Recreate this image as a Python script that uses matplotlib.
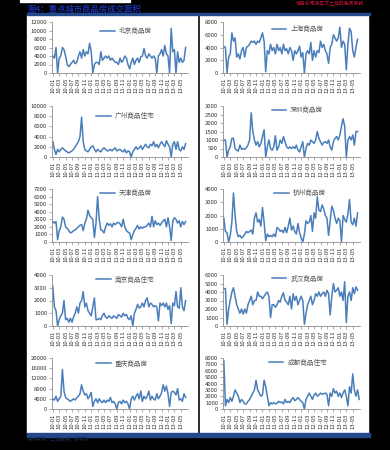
import numpy as np
import matplotlib
matplotlib.use("Agg")
import matplotlib.pyplot as plt
from matplotlib.patches import Rectangle

plt.rcParams['font.family'] = ['Noto Sans CJK SC', 'DejaVu Sans']

# x tick labels (every 2 months, one label per 4 points)
tick_labels = ['10-01', '10-03', '10-05', '10-07', '10-09', '10-11',
               '11-01', '11-03', '11-05', '11-07', '11-09', '11-11',
               '12-01', '12-03', '12-05', '12-07', '12-09', '12-11',
               '13-01', '13-03', '13-05']

names = ['北京商品房', '上海商品房', '广州商品住宅', '深圳商品房', '天津商品房',
         '杭州商品房', '南京商品住宅', '武汉商品房', '重庆商品房', '成都商品住宅']

beijing = [4000, 3500, 6000, 0, 3500, 4000, 6000, 5500, 4000, 2000, 1500, 2000,
           2500, 3000, 2200, 2500, 4000, 5000, 3500, 5500, 4000, 5000, 4500, 7000,
           5000, 0, 2000, 2500, 2500, 2000, 5000, 3000, 3500, 4000, 3500, 4000,
           3000, 3500, 3000, 2500, 2500, 2000, 3500, 2500, 3000, 4000, 3500, 2000,
           1000, 2500, 3500, 2000, 3000, 3500, 2500, 3800, 4000, 5800, 4000, 3500,
           4500, 4000, 3500, 4000, 3500, 0, 4000, 4500, 5500, 4000, 6500, 4500,
           4000, 0, 10500, 5000, 5500, 0, 5000, 2500, 3500, 2500, 3000, 6000]

shanghai = [4200, 4000, 0, 2500, 3000, 6300, 5000, 5500, 2500, 3000, 2200, 3500,
            4000, 2500, 4000, 4200, 4500, 5000, 4800, 5000, 4500, 5000, 4800, 5500,
            6300, 5000, 200, 3500, 3000, 4500, 3500, 4000, 3000, 4500, 3500, 4000,
            3000, 4500, 3500, 3800, 3000, 4000, 3500, 2000, 3500, 3000, 3500, 4200,
            2500, 3200, 0, 3000, 3500, 3000, 4800, 2000, 3500, 2500, 3500, 3200,
            5000, 4000, 4500, 3500, 3000, 1500, 4000, 4500, 6000, 5500, 5000, 5500,
            7200, 4000, 5000, 4500, 500, 4500, 7000, 6500, 3500, 2500, 4000, 5300]

guangzhou = [3000, 1500, 500, 1500, 1000, 1500, 1800, 1500, 1200, 1000, 800, 1000,
             1200, 1500, 2000, 2500, 3000, 4000, 7800, 3000, 1500, 1200, 1000, 1500,
             2000, 2200, 1500, 1000, 1500, 1200, 1000, 1500, 1800, 1500, 1200, 1300,
             1500, 1200, 1500, 1800, 1200, 1400, 1500, 1200, 1000, 1500, 800, 1200,
             1000, 0, 1000, 1500, 2000, 1500, 1800, 2200, 1500, 2000, 2500, 2000,
             1800, 2500, 2200, 3000, 2000, 2500, 1800, 2500, 3000, 2500, 2000, 3200,
             2500, 2000, 0, 2500, 3000, 1500, 3000, 1500, 1200, 2000, 1500, 2600]

shenzhen = [1000, 1000, 0, 400, 600, 1100, 1100, 500, 400, 350, 700, 450,
            500, 450, 550, 700, 1000, 2600, 1500, 1000, 700, 900, 600, 800,
            1200, 1600, 0, 600, 1000, 500, 400, 600, 1250, 400, 600, 1000,
            800, 1200, 900, 600, 500, 600, 500, 600, 500, 700, 400, 300,
            600, 900, 0, 500, 800, 700, 1000, 900, 800, 1000, 1500, 1100,
            900, 700, 850, 900, 800, 1000, 600, 400, 900, 1100, 1200, 1000,
            1300, 1800, 2250, 1800, 0, 1000, 1200, 1000, 1300, 700, 1500, 1500]

tianjin = [2700, 2500, 2700, 300, 1500, 2000, 3300, 3000, 2000, 1800, 1500, 1200,
           1300, 1500, 1600, 1800, 2000, 2200, 2300, 1500, 2500, 3000, 4200, 3500,
           3200, 3000, 600, 2500, 6000, 3000, 1600, 1500, 1200, 2000, 2500, 2200,
           2400, 2000, 2500, 2300, 2500, 2600, 2400, 2000, 3000, 2000, 1500, 1300,
           1200, 300, 1000, 1500, 1800, 2200, 1700, 2000, 1800, 2000, 2000, 2200,
           2500, 2000, 3400, 2000, 2800, 2300, 2500, 2200, 2500, 2800, 3000, 2000,
           3200, 2000, 200, 2800, 3200, 3000, 2500, 2800, 2000, 2700, 2300, 2700]

hangzhou = [1800, 800, 700, 0, 500, 1500, 3700, 2000, 800, 400, 500, 300,
            400, 600, 800, 700, 800, 900, 600, 1800, 2200, 1500, 1700, 1200,
            2600, 1500, 100, 600, 400, 500, 400, 600, 400, 1100, 1000, 800,
            900, 700, 1100, 700, 1200, 1800, 900, 1200, 800, 600, 1400, 700,
            300, 0, 600, 1600, 1400, 1500, 2000, 800, 2200, 1800, 3400, 2400,
            2300, 2800, 2500, 2000, 1800, 500, 1600, 2700, 2400, 1800, 1400, 1800,
            1600, 0, 2000, 1700, 1500, 2100, 3200, 1500, 1300, 1800, 1200, 2200]

nanjing = [3100, 1500, 1200, 0, 500, 800, 1000, 2000, 500, 600, 300, 600,
           300, 700, 1000, 1500, 1000, 1800, 2000, 2700, 1500, 1800, 1200, 1000,
           800, 1500, 2200, 500, 500, 600, 500, 800, 1000, 700, 600, 800,
           700, 600, 800, 700, 600, 900, 800, 700, 1000, 800, 900, 600,
           500, 800, 0, 1000, 1300, 1700, 1400, 1500, 1800, 1500, 2000, 2200,
           1500, 1800, 1700, 1500, 1600, 1500, 400, 1800, 1600, 1800, 1500, 1800,
           1300, 1600, 200, 1800, 1600, 2700, 1500, 1400, 3000, 1500, 1200, 2000]

wuhan = [4400, 4400, 200, 2000, 3000, 4000, 4500, 3500, 2500, 2000, 1500, 2000,
         1400, 2000, 1500, 2500, 3000, 3500, 2500, 3000, 3000, 4000, 3500, 3500,
         3200, 3500, 3800, 4000, 3500, 1000, 2500, 2500, 2200, 2500, 3000, 2800,
         3500, 3900, 3000, 2800, 2500, 3500, 2000, 3800, 3000, 3500, 2500, 3000,
         3500, 3000, 200, 1500, 2500, 3000, 3500, 2500, 3000, 3800, 3500, 4000,
         3500, 3800, 4000, 3500, 4200, 3800, 1300, 3500, 5000, 4000, 4200, 4500,
         3500, 4000, 3000, 5200, 400, 3500, 4000, 3000, 4500, 3800, 4600, 4200]

chongqing = [4000, 3500, 5000, 3000, 4000, 5000, 15500, 7000, 4500, 4000, 3500, 3000,
             3500, 4000, 3500, 4500, 5000, 6000, 9500, 7000, 5500, 6000, 4000, 5000,
             6500, 1000, 3000, 4000, 2500, 4000, 3000, 2500, 3500, 2500, 3500, 3000,
             4500, 2500, 3000, 2000, 0, 2500, 3000, 2000, 3500, 2500, 3000, 2000,
             0, 4000, 5000, 3500, 5000, 6000, 4000, 7000, 3000, 5000, 4000, 5000,
             7000, 3500, 5000, 4000, 3500, 6000, 4000, 5000, 6500, 9500, 7000, 9000,
             6000, 1000, 6500, 7000, 6500, 5500, 8000, 3500, 4000, 3000, 6000, 4500]

chengdu = [7600, 500, 1500, 1000, 1800, 1200, 2000, 3000, 2500, 2000, 1000, 1500,
           1200, 800, 800, 1200, 1500, 2000, 2500, 3000, 4500, 3000, 2500, 2000,
           2200, 4500, 3500, 2000, 500, 1000, 800, 1000, 800, 900, 1200, 1000,
           1100, 800, 1500, 1000, 1200, 1000, 1500, 1800, 1300, 1500, 1800, 1500,
           1200, 1000, 0, 1500, 2000, 2500, 2000, 1500, 2200, 2500, 2000, 2200,
           2500, 2300, 2400, 2500, 2300, 500, 2500, 2000, 3200, 2500, 2800, 2000,
           2500, 1800, 2500, 3000, 2000, 500, 3500, 2500, 5500, 3000, 2000, 3000,
           1500]

series = [beijing, shanghai, guangzhou, shenzhen, tianjin,
          hangzhou, nanjing, wuhan, chongqing, chengdu]

# y axis ranges (max, step) per panel
ymax = [12000, 8000, 10000, 3000, 7000, 4000, 4000, 6000, 20000, 8000]
ystep = [2000, 2000, 2000, 500, 1000, 1000, 1000, 1000, 4000, 1000]

W, H = 390, 450


def fig_rect(fig, x0, y0, x1, y1, color):
    # rectangle in pixel coords measured from the top-left corner
    fig.patches.append(Rectangle((x0 / W, 1 - y1 / H), (x1 - x0) / W, (y1 - y0) / H,
                                 transform=fig.transFigure, color=color, zorder=-5))


def main():
    fig = plt.figure(figsize=(3.9, 4.5), dpi=100, facecolor='black')

    # page pieces around the charts
    fig_rect(fig, 20, 0, 130, 2, 'white')
    fig_rect(fig, 27, 15, 197, 433, 'white')
    fig_rect(fig, 200, 15, 368, 433, 'white')
    fig_rect(fig, 27, 13, 370, 15, '#24488c')
    fig_rect(fig, 27, 433, 370, 437, '#24488c')
    fig.text(27 / W, 1 - 9 / H, '图4：重点城市商品房成交面积', color='#1c2fa8',
             fontsize=6, fontweight='bold', va='center', ha='left')
    fig.text(296 / W, 1 - 0.3 / H, '请务必阅读正文之后的免责条款', color='#d0103a',
             fontsize=3.5, va='top', ha='left')
    fig.text(27 / W, 1 - 440 / H, '资料来源：公司数据，研究所', color='#1c2a50',
             fontsize=3.5, va='center', ha='left')

    tops = [22, 106, 189, 275, 358]
    bottoms = [73, 157, 242, 326, 409]
    lefts = [52, 223]
    widths = [136, 137]
    leg_pos = [(0.33, 0.97), (0.33, 1.0), (0.30, 0.95), (0.33, 1.06), (0.33, 1.06),
               (0.35, 1.06), (0.30, 1.05), (0.33, 1.07), (0.30, 1.03), (0.31, 1.05)]

    for k, (name, vals) in enumerate(zip(names, series)):
        row, col = k // 2, k % 2
        ax = fig.add_axes([lefts[col] / W, 1 - bottoms[row] / H,
                           widths[col] / W, (bottoms[row] - tops[row]) / H])
        ax.set_zorder(2)
        ax.set_facecolor('white')
        x = np.arange(len(vals))
        ax.plot(x, vals, color='#4a7ebb', lw=1.1, label=name)
        ax.set_xlim(-0.5, 84.5)
        ax.set_ylim(0, ymax[k])
        ax.set_yticks(np.arange(0, ymax[k] + 1, ystep[k]))
        ax.set_xticks(np.arange(len(tick_labels)) * 4)
        ax.set_xticklabels(tick_labels, rotation=90)
        for s in ['top', 'right']:
            ax.spines[s].set_visible(False)
        for s in ['left', 'bottom']:
            ax.spines[s].set_color('#8c8c8c')
            ax.spines[s].set_linewidth(0.6)
        ax.tick_params(axis='both', labelsize=4.3, colors='#8c8c8c',
                       labelcolor='#333333', length=2, width=0.5, pad=1.5)
        ax.legend(loc='upper left', bbox_to_anchor=leg_pos[k], frameon=False,
                  fontsize=4.8, handlelength=2.2, handletextpad=0.6,
                  borderpad=0, labelcolor='#555555')

    fig.savefig('out.png', dpi=100, facecolor='black')


if __name__ == "__main__":
    main()
